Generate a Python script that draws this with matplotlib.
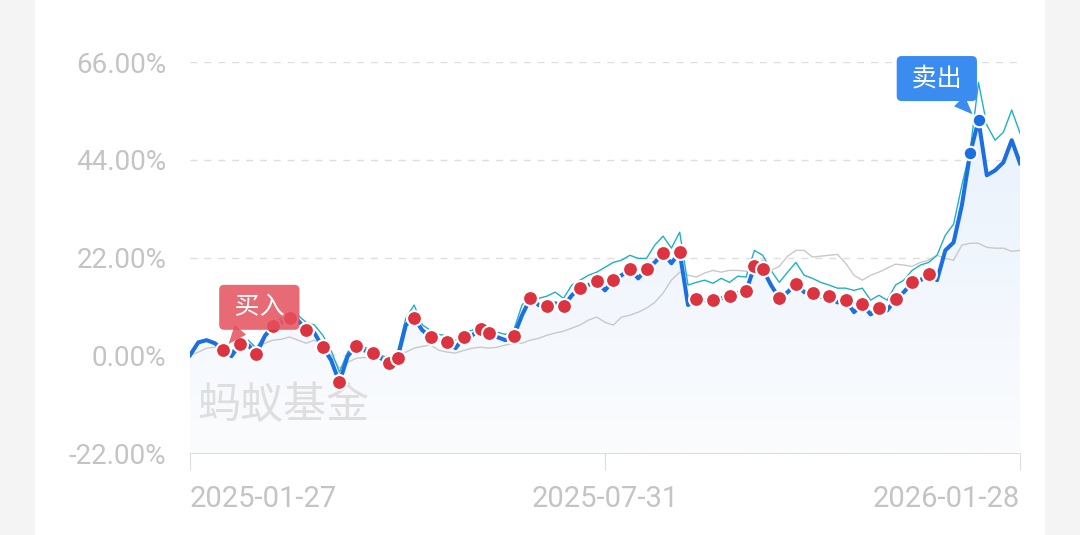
import matplotlib
matplotlib.use("Agg")
import matplotlib.pyplot as plt
import numpy as np
from matplotlib.patches import Rectangle
from matplotlib.colors import LinearSegmentedColormap

plt.rcParams['font.family'] = ['Noto Sans CJK SC', 'DejaVu Sans']

# 收益率(%)，按交易日采样
fund = [0.0, 2.9, 3.4, 2.7, 1.1, -0.2, 2.5, 2.3, 0.2, 4.3,
        6.5, 7.4, 8.3, 7.9, 5.6, 5.0, 1.8, -1.1, -6.1, -0.2,
        2.0, 1.1, 0.5, -0.7, -1.8, -0.7, 6.8, 8.3, 5.6, 4.1,
        3.4, 2.9, 1.6, 4.1, 4.5, 5.9, 5.0, 4.1, 3.4, 4.3,
        9.0, 12.8, 11.3, 11.0, 11.7, 11.0, 13.5, 15.1, 15.8, 16.7,
        14.6, 16.9, 18.0, 19.4, 17.3, 19.4, 20.9, 23.0, 20.7, 23.2,
        11.3, 12.6, 12.4, 12.4, 12.8, 13.3, 14.0, 14.4, 20.0, 19.4,
        15.8, 12.8, 14.2, 16.0, 14.2, 14.0, 13.1, 13.3, 11.9, 12.4,
        9.7, 11.5, 9.2, 10.6, 10.1, 12.6, 14.2, 16.4, 16.9, 18.2,
        16.9, 23.6, 25.4, 33.8, 45.5, 52.9, 40.5, 41.6, 43.4, 48.4,
        43.2]
peer = [0.0, 2.7, 3.2, 2.7, 1.6, 0.7, 2.7, 3.4, 1.6, 4.7,
        7.4, 8.3, 9.5, 9.0, 7.4, 6.8, 4.5, 1.1, -3.8, 0.7,
        2.5, 1.8, 1.1, 0.0, -0.7, 0.7, 8.3, 11.3, 6.8, 5.6,
        4.7, 4.3, 3.4, 5.2, 5.6, 7.2, 6.3, 5.2, 4.7, 5.6,
        11.3, 13.5, 12.8, 13.3, 14.2, 12.8, 15.8, 16.9, 18.0, 18.7,
        19.8, 20.9, 21.4, 22.5, 21.8, 21.8, 24.8, 26.8, 24.1, 27.7,
        15.8, 16.4, 16.9, 16.2, 17.3, 16.4, 17.8, 17.6, 23.6, 22.5,
        19.1, 16.4, 18.7, 20.9, 18.0, 17.3, 16.4, 15.8, 15.1, 15.1,
        14.6, 15.1, 12.4, 13.5, 12.4, 15.8, 16.9, 19.1, 20.3, 20.9,
        22.5, 27.0, 29.5, 38.3, 46.1, 61.4, 51.8, 48.4, 50.2, 55.2,
        50.0]
bench = [0.0, 0.7, 1.6, 1.8, 1.4, 1.1, 2.0, 2.5, 1.8, 2.7,
         3.4, 3.6, 4.1, 3.4, 2.7, 3.4, 2.3, 0.0, -2.9, -1.6,
         -0.7, -0.5, -0.7, -0.2, -0.5, 0.0, 0.7, 1.6, 2.0, 2.3,
         1.1, 0.7, 0.5, 1.1, 1.6, 1.8, 1.6, 1.8, 2.3, 2.7,
         2.7, 3.4, 3.8, 4.5, 5.0, 5.4, 6.1, 6.8, 7.9, 8.6,
         7.4, 6.8, 8.6, 9.0, 9.7, 10.6, 11.9, 14.0, 16.9, 18.7,
         18.0, 17.6, 18.5, 19.1, 18.7, 19.1, 19.1, 18.9, 20.3, 21.4,
         19.1, 20.0, 22.3, 23.6, 23.6, 22.1, 22.3, 22.5, 22.7, 20.7,
         18.0, 16.9, 18.0, 18.7, 19.6, 20.5, 20.3, 20.0, 20.9, 21.4,
         22.5, 21.8, 21.4, 24.8, 25.2, 25.2, 24.3, 24.1, 24.1, 23.4,
         23.6]

# 买入/卖出点（序号）
buy_idx = [4, 6, 8, 10, 12, 14, 16, 18, 20, 22, 24, 25, 27, 29, 31, 33, 35, 36,
           39, 41, 43, 45, 47, 49, 51, 53, 55, 57, 59, 61, 63, 65, 67, 68, 69,
           71, 73, 75, 77, 79, 81, 83, 85, 87, 89]
sell_idx = [94, 95]

xtick_pos = [0, 50, 100]
xtick_labels = ['2025-01-27', '2025-07-31', '2026-01-28']
yticks = [-22, 0, 22, 44, 66]

x = np.arange(len(fund))
fund = np.array(fund)

fig = plt.figure(figsize=(10.8, 5.35), dpi=100)
fig.patch.set_facecolor('#f4f4f4')
bg = Rectangle((35 / 1080, 0), 1010 / 1080, 1, transform=fig.transFigure,
               facecolor='white', edgecolor='none', zorder=-10)
fig.add_artist(bg)

ax = fig.add_axes([190 / 1080, 82 / 535, 830 / 1080, 391 / 535])
ax.set_facecolor('none')
ax.set_xlim(0, 100)
ax.set_ylim(-22, 66)

# 渐变填充
poly = ax.fill_between(x, fund, -22, facecolor='none', edgecolor='none')
grad = np.linspace(0, 1, 256).reshape(-1, 1)
cmap = LinearSegmentedColormap.from_list('g', ['#fbfcfe', '#e6f0fc'])
img = ax.imshow(grad, extent=[0, 100, -22, 66], origin='lower', aspect='auto',
                cmap=cmap, zorder=1)
img.set_clip_path(poly.get_paths()[0], transform=ax.transData)

for v in [0, 22, 44, 66]:
    ax.axhline(v, color='#dedede', lw=1, ls=(0, (5, 5)), zorder=0)

ax.plot(x, bench, color='#c9c9c9', lw=1, zorder=2)
ax.plot(x, peer, color='#1fb0c6', lw=1, zorder=3)
ax.plot(x, fund, color='#1c6fe3', lw=2.9, zorder=4, solid_joinstyle='round')

ax.scatter(x[buy_idx], fund[buy_idx], s=115, color='#dc3340', edgecolor='white',
           linewidth=1.5, zorder=5)
ax.scatter(x[sell_idx], fund[sell_idx], s=95, color='#1c6fe3', edgecolor='white',
           linewidth=1.5, zorder=5)

ax.text(0.9, -11.5, '蚂蚁基金', fontsize=31, color='#dedede', ha='left', va='center', zorder=1)

ax.annotate(' 买入 ', xy=(buy_idx[0], fund[buy_idx[0]]), xytext=(26, 31),
            textcoords='offset points', ha='center', va='center', fontsize=18,
            color='white', zorder=6, annotation_clip=False,
            bbox=dict(boxstyle='round,pad=0.38,rounding_size=0.2', fc='#e4505c',
                      ec='none', alpha=0.85),
            arrowprops=dict(arrowstyle='wedge,tail_width=0.6', fc='#e4505c',
                            ec='none', alpha=0.85, shrinkA=0, shrinkB=6))
ax.annotate(' 卖出 ', xy=(sell_idx[1], fund[sell_idx[1]]), xytext=(-30, 30),
            textcoords='offset points', ha='center', va='center', fontsize=18,
            color='white', zorder=6, annotation_clip=False,
            bbox=dict(boxstyle='round,pad=0.38,rounding_size=0.2', fc='#3b8cf0',
                      ec='none'),
            arrowprops=dict(arrowstyle='wedge,tail_width=0.6', fc='#3b8cf0',
                            ec='none', shrinkA=0, shrinkB=6))

for s in ['top', 'right', 'left']:
    ax.spines[s].set_visible(False)
ax.spines['bottom'].set_color('#dddddd')
ax.spines['bottom'].set_zorder(0)

ax.set_yticks(yticks)
ax.set_yticklabels(['%.2f%%' % v for v in yticks], family='Roboto', fontsize=20,
                   color='#c4c4c4')
ax.tick_params(axis='y', length=0, pad=17)
ax.set_xticks(xtick_pos)
ax.set_xticklabels(xtick_labels, family='Roboto', fontsize=21, color='#c4c4c4')
ax.tick_params(axis='x', length=12, color='#dddddd', pad=11)
labels = ax.get_xticklabels()
labels[0].set_ha('left')
labels[2].set_ha('right')

fig.savefig('out.png', dpi=100)
